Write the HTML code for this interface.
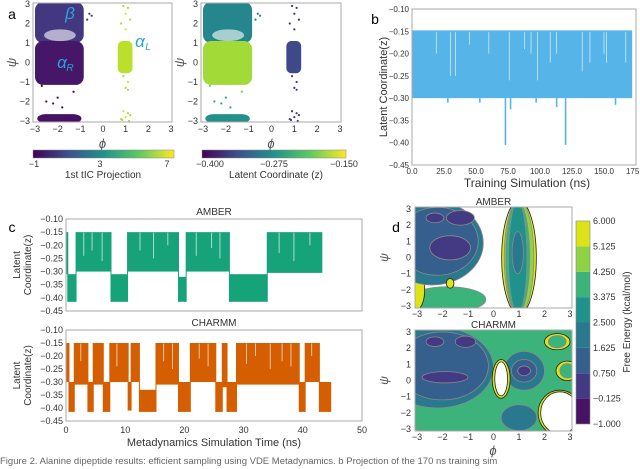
<!DOCTYPE html>
<html><head><meta charset="utf-8"><style>
html,body{margin:0;padding:0;background:#fff;overflow:hidden;width:640px;height:469px;}
svg{display:block;font-family:"Liberation Sans",sans-serif;}
</style></head><body>
<svg id="fig" width="640" height="469" viewBox="0 0 640 469" xmlns="http://www.w3.org/2000/svg">
<defs>
<linearGradient id="vir" x1="0" x2="1" y1="0" y2="0">
<stop offset="0" stop-color="#440154"/><stop offset="0.25" stop-color="#3b528b"/><stop offset="0.5" stop-color="#21918c"/><stop offset="0.75" stop-color="#5ec962"/><stop offset="1" stop-color="#fde725"/>
</linearGradient>
<clipPath id="cA"><rect x="33" y="3" width="139" height="119"/></clipPath>
<clipPath id="cB"><rect x="201" y="3" width="140" height="119"/></clipPath>
<clipPath id="cD1"><rect x="415" y="207" width="157" height="101"/></clipPath>
<clipPath id="cD2"><rect x="415" y="330" width="157" height="101"/></clipPath>
</defs>
<g id="root"></g>
</svg>
<script>
// ---------- data ----------
const phiTicks = [-3,-2,-1,0,1,2,3];
const psiTicks = [-3,-2,-1,0,1,2,3];
// scatter clusters as ranges: phi min/max, psi min/max
const clusterPhiMin = [-3.0,-3.0,-2.9,0.65];
const clusterPhiMax = [-0.85,-0.85,-0.95,1.3];
const clusterPsiMin = [1.0,-1.15,-3.1,-0.55];
const clusterPsiMax = [3.1,1.1,-2.65,1.1];
const tICValues = [0.3,-0.5,-0.6,6.2];
const latentValues = [-0.285,-0.185,-0.275,-0.345];
const sparsePhi = [0.9,1.1,1.0,1.2,0.8,1.0,0.9,1.1,1.0,1.1,0.9,1.1,1.0,0.8,1.2,-2.0,-2.2,-1.8,-2.5,-0.6,-0.5,-0.7,-1.3,-2.7,0.85,1.15];
const sparsePsi = [2.9,2.8,2.5,2.2,2.0,1.7,-0.7,-1.0,-1.3,-1.4,-2.5,-2.6,-2.8,-2.9,-2.7,-1.8,-2.1,-2.3,-2.0,2.5,2.4,2.2,-1.5,-1.2,-2.95,-3.0];
const sparseTIC = [6,6,6.5,6,6,6.5,6,6.5,6,6,6.5,6,6.5,6,6,-0.8,-0.8,-0.8,-0.8,0.5,0.5,0.5,-0.8,-0.8,6,6];
const sparseLatent = [-0.36,-0.36,-0.36,-0.36,-0.36,-0.36,-0.36,-0.36,-0.36,-0.36,-0.36,-0.36,-0.36,-0.36,-0.36,-0.25,-0.25,-0.25,-0.25,-0.29,-0.29,-0.29,-0.2,-0.2,-0.36,-0.36];
// panel b
const bTicksX = [0,25,50,75,100,125,150,175];
const bTickLabelsX = ["0.0","25.0","50.0","75.0","100.0","125.0","150.0","175.0"];
const bTicksY = [-0.10,-0.15,-0.20,-0.25,-0.30,-0.35,-0.40,-0.45];
const bBandStart = [0];
const bBandEnd = [172];
const bBandHigh = [-0.148];
const bBandLow = [-0.30];
const bSpikeTime = [73,120,53,77,113,159,28,97];
const bSpikeLow = [-0.405,-0.405,-0.31,-0.325,-0.32,-0.315,-0.31,-0.31];
const bGapTime = [19,30,34,60,76,93,98,108,113,133,139,150,152,167,45,88];
const bGapLow = [-0.2,-0.25,-0.25,-0.2,-0.26,-0.2,-0.26,-0.22,-0.2,-0.24,-0.22,-0.2,-0.22,-0.22,-0.18,-0.19];
// panel c
const cTicksY = [-0.10,-0.15,-0.20,-0.25,-0.30,-0.35,-0.40,-0.45];
const cTicksX = [0,10,20,30,40,50];
const amberStart = [0,0.3,1.7,7.6,10.4,19.0,20.3,27.6,34.0];
const amberEnd   = [0.3,1.7,7.6,10.4,19.0,20.3,27.6,34.0,43.3];
const amberHigh  = [-0.15,-0.31,-0.15,-0.31,-0.15,-0.32,-0.15,-0.31,-0.15];
const amberLow   = [-0.31,-0.415,-0.30,-0.415,-0.30,-0.415,-0.30,-0.415,-0.305];
const amberGapTime = [3.0,4.4,6.1,12.5,14.8,17.2,22.0,24.6,26.0,36.0,38.5,41.2];
const amberGapLow  = [-0.24,-0.22,-0.26,-0.22,-0.25,-0.2,-0.24,-0.21,-0.25,-0.23,-0.26,-0.2];
const charmmStart = [0,0.5,1.4,3.7,4.6,6.3,7.4,10.5,11.0,12.4,15.2,19.0,21.0,25.3,26.4,27.2,28.8,39.4,40.4,42.8];
const charmmEnd   = [0.5,1.4,3.7,4.6,6.3,7.4,10.5,11.0,12.4,15.2,19.0,21.0,25.3,26.4,27.2,28.8,39.4,40.4,42.8,44.8];
const charmmHigh  = [-0.15,-0.30,-0.15,-0.30,-0.15,-0.30,-0.15,-0.30,-0.15,-0.33,-0.15,-0.30,-0.15,-0.30,-0.15,-0.30,-0.15,-0.30,-0.15,-0.30];
const charmmLow   = [-0.30,-0.415,-0.31,-0.415,-0.31,-0.415,-0.30,-0.41,-0.30,-0.415,-0.31,-0.415,-0.30,-0.415,-0.32,-0.415,-0.31,-0.415,-0.30,-0.415];
const charmmGapTime = [2.5,8.6,16.5,18.0,22.5,24.0,30.5,32.0,34.5,36.5,38.0,41.5];
const charmmGapLow  = [-0.22,-0.24,-0.22,-0.25,-0.21,-0.24,-0.23,-0.2,-0.25,-0.22,-0.24,-0.2];
// panel d contours (drawn in order): phi, psi, rx, ry, free energy
const amberBlobPhi = [-1.8,-3.0,-2.4,-2.2,-1.7,-1.3,-2.3,-1.7,1.0,1.0,0.95,0.95,0.95];
const amberBlobPsi = [-2.6,-2.0,0.9,1.0,0.6,2.45,2.45,-1.6,0,0,0,0,0.3];
const amberBlobRx  = [1.5,0.3,2.0,1.6,0.8,0.55,0.35,0.15,0.68,0.58,0.47,0.36,0.22];
const amberBlobRy  = [0.8,1.2,2.6,2.1,0.75,0.45,0.3,0.3,3.5,3.5,3.45,3.4,1.3];
const amberBlobG   = [3.6,5.5,2.2,1.2,0.2,0.2,0.2,5.5,5.6,4.7,3.6,2.6,1.8];
const charmmBlobPhi = [0,-2.2,-2.0,-1.9,-2.3,-1.1,1.2,1.2,1.2,1.0,0.3,0.3,2.6,2.6,2.9,2.9,2.5,2.5];
const charmmBlobPsi = [0,0.8,0.9,0.2,2.4,2.4,0.6,0.6,0.6,-2.3,0.1,0.1,-2.0,-2.0,0.6,0.6,2.4,2.4];
const charmmBlobRx  = [4.3,2.2,1.8,0.9,0.35,0.4,0.8,0.5,0.25,0.7,0.35,0.25,0.85,0.75,0.45,0.3,0.5,0.35];
const charmmBlobRy  = [4.3,2.5,2.1,0.35,0.3,0.35,1.2,0.7,0.3,0.8,1.2,1.05,1.4,1.3,0.6,0.45,0.5,0.38];
const charmmBlobG   = [3.8,2.0,1.2,0.2,0.2,0.2,2.0,1.2,0.2,2.0,5.6,9,5.6,9,5.6,3.8,5.6,3.8];
const fLevels = [-1.000,-0.125,0.750,1.625,2.500,3.375,4.250,5.125,6.000];
const fLevelLabels = ["-1.000","-0.125","0.750","1.625","2.500","3.375","4.250","5.125","6.000"];
const fColors = ["#471365","#443983","#355f8d","#2a788e","#21918c","#3bb37a","#8fd344","#dde318"];

// ---------- helpers ----------
const NS="http://www.w3.org/2000/svg";
const root=document.getElementById('root');
function mk(tag,attrs,name,parent){
  const el=document.createElementNS(NS,tag);
  for(const k in attrs) el.setAttribute(k,attrs[k]);
  
  
  (parent||root).appendChild(el);
  return el;
}
function txt(x,y,s,name,opt){
  opt=opt||{};
  const t=mk('text',{x:x,y:y,'font-size':opt.size||9,fill:opt.fill||'#333','text-anchor':opt.anchor||'middle','font-style':opt.style||'normal'},name,opt.parent);
  if(opt.rot) t.setAttribute('transform','rotate(-90 '+x+' '+y+')');
  t.textContent=s;
  return t;
}
function lin(d0,d1,r0,r1){return v=>r0+(v-d0)/(d1-d0)*(r1-r0);}
const VIR=[[68,1,84],[72,40,120],[62,74,137],[49,104,142],[38,130,142],[31,158,137],[53,183,121],[109,205,89],[180,222,44],[253,231,37]];
function viridis(t){t=Math.max(0,Math.min(1,t));const p=t*(VIR.length-1);const i=Math.min(VIR.length-2,Math.floor(p));const f=p-i;const c=VIR[i].map((v,k)=>Math.round(v+(VIR[i+1][k]-v)*f));return 'rgb('+c.join(',')+')';}
function binColor(g){if(g>=8) return '#ffffff';for(let i=fLevels.length-2;i>=0;i--){if(g>=fLevels[i]) return fColors[i];}return fColors[0];}
function box(x,y,w,h,name){mk('rect',{x:x,y:y,width:w,height:h,fill:'none',stroke:'#aaa','stroke-width':1},name);}

// ---------- panel a ----------
function scatterPanel(x0,x1,y0,y1,clip,vals,svals,vmin,vmax,prefix){
  const sx=lin(-3,3,x0+2,x1-1), sy=lin(-3,3,y1-1,y0+1);
  const g=mk('g',{'clip-path':'url(#'+clip+')'},prefix+'-points');
  for(let i=0;i<clusterPhiMin.length;i++){
    const c=viridis((vals[i]-vmin)/(vmax-vmin));
    const w=sx(clusterPhiMax[i])-sx(clusterPhiMin[i]);
    mk('rect',{x:sx(clusterPhiMin[i]),y:sy(clusterPsiMax[i]),width:w,height:sy(clusterPsiMin[i])-sy(clusterPsiMax[i]),rx:Math.min(w/3,8),fill:c},prefix+'-cluster',g);
  }
  mk('ellipse',{cx:sx(-1.9),cy:sy(1.4),rx:0.7*(sx(1)-sx(0)),ry:0.3*(sy(0)-sy(1)),fill:'#fff',opacity:0.6},prefix+'-sparse-region',g);
  for(let i=0;i<sparsePhi.length;i++){
    mk('circle',{cx:sx(sparsePhi[i]),cy:sy(sparsePsi[i]),r:1.1,fill:viridis((svals[i]-vmin)/(vmax-vmin))},prefix+'-point',g);
  }
  box(x0,y0,x1-x0,y1-y0,prefix+'-frame');
  phiTicks.forEach(v=>txt(sx(v),y1+10,v<0?'\u2212'+(-v):String(v),prefix+'-x-tick'));
  psiTicks.forEach(v=>txt(x0-3,sy(v)+3,v<0?'\u2212'+(-v):String(v),prefix+'-y-tick',{anchor:'end'}));
  txt((x0+x1)/2,y1+26,'\u03d5',prefix+'-x-axis-title',{size:13,style:'italic',fill:'#555'});
  txt(x0-17,(y0+y1)/2,'\u03c8',prefix+'-y-axis-title',{size:13,style:'italic',fill:'#555',rot:true});
}
scatterPanel(33,172,3,122,'cA',tICValues,sparseTIC,-1,7,'tic-scatter');
scatterPanel(201,341,3,122,'cB',latentValues,sparseLatent,-0.4,-0.15,'latent-scatter');
txt(12,19,'a','panel-a-label',{size:14,fill:'#000'});
txt(70,19,'\u03b2','beta-label',{size:17,fill:'#29a3e0',style:'italic'});
txt(140,47,'\u03b1','alpha-l-label',{size:17,fill:'#29a3e0',style:'italic'});
txt(148,50,'L','alpha-l-sub',{size:10,fill:'#29a3e0',style:'italic'});
txt(62,68,'\u03b1','alpha-r-label',{size:17,fill:'#29a3e0',style:'italic'});
txt(70,71,'R','alpha-r-sub',{size:10,fill:'#29a3e0',style:'italic'});
mk('rect',{x:33,y:150,width:141,height:8,fill:'url(#vir)',stroke:'#888','stroke-width':0.5},'tic-colorbar');
txt(34,167,'\u22121','tic-cbar-tick');txt(100,167,'3','tic-cbar-tick');txt(167,167,'7','tic-cbar-tick');
txt(103,178,'1st tIC Projection','tic-cbar-title',{size:10});
mk('rect',{x:202,y:150,width:144,height:8,fill:'url(#vir)',stroke:'#888','stroke-width':0.5},'latent-colorbar');
txt(210,167,'\u22120.400','latent-cbar-tick');txt(274,167,'\u22120.275','latent-cbar-tick');txt(344,167,'\u22120.150','latent-cbar-tick');
txt(276,178,'Latent Coordinate (z)','latent-cbar-title',{size:10});

// ---------- panel b ----------
(function(){
  const x0=412,x1=636,y0=9,y1=165;
  const sx=lin(0,175,x0,x1), sy=lin(-0.10,-0.45,y0,y1);
  for(let i=0;i<bBandStart.length;i++)
    mk('rect',{x:sx(bBandStart[i]),y:sy(bBandHigh[i]),width:sx(bBandEnd[i])-sx(bBandStart[i]),height:sy(bBandLow[i])-sy(bBandHigh[i]),fill:'#56b4e9'},'training-band');
  for(let i=0;i<bSpikeTime.length;i++)
    mk('rect',{x:sx(bSpikeTime[i])-0.8,y:sy(-0.30),width:1.6,height:sy(bSpikeLow[i])-sy(-0.30),fill:'#56b4e9'},'training-spike');
  for(let i=0;i<bGapTime.length;i++)
    mk('line',{x1:sx(bGapTime[i]),x2:sx(bGapTime[i]),y1:sy(-0.152),y2:sy(bGapLow[i]),stroke:'#cfe9f8','stroke-width':0.8},'training-gap');
  box(x0,y0,x1-x0,y1-y0,'training-frame');
  bTicksX.forEach((v,i)=>txt(sx(v),y1+9,bTickLabelsX[i],'training-x-tick',{size:8}));
  bTicksY.forEach(v=>txt(x0-3,sy(v)+3,'\u2212'+(-v).toFixed(2),'training-y-tick',{anchor:'end',size:8}));
  txt(527,187,'Training Simulation (ns)','training-x-title',{size:12});
  txt(387,87,'Latent Coordinate(z)','training-y-title',{size:11,rot:true});
  txt(375,24,'b','panel-b-label',{size:14,fill:'#000'});
})();

// ---------- panel c ----------
function tsPanel(y0,y1,starts,ends,highs,lows,gapT,gapL,color,title,prefix,showX){
  const x0=66,x1=362;
  const sx=lin(0,50,x0,x1), sy=lin(-0.10,-0.45,y0,y1);
  for(let i=0;i<starts.length;i++){
    mk('rect',{x:sx(starts[i]),y:sy(highs[i]),width:Math.max(0.8,sx(ends[i])-sx(starts[i])),height:sy(lows[i])-sy(highs[i]),fill:color},prefix+'-segment');
    if(i>0) mk('line',{x1:sx(starts[i]),x2:sx(starts[i]),y1:sy(Math.max(highs[i],highs[i-1])),y2:sy(Math.min(lows[i],lows[i-1])),stroke:color,'stroke-width':1},prefix+'-transition');
  }
  for(let i=0;i<gapT.length;i++)
    mk('line',{x1:sx(gapT[i]),x2:sx(gapT[i]),y1:sy(-0.152),y2:sy(gapL[i]),stroke:'#fff','stroke-width':0.9,opacity:0.7},prefix+'-gap');
  box(x0,y0,x1-x0,y1-y0,prefix+'-frame');
  cTicksY.forEach(v=>txt(x0-3,sy(v)+3,'\u2212'+(-v).toFixed(2),prefix+'-y-tick',{anchor:'end',size:9}));
  if(showX) cTicksX.forEach(v=>txt(sx(v),y1+12,String(v),prefix+'-x-tick',{size:9}));
  txt((x0+x1)/2,y0-4,title,prefix+'-title',{size:10});
  txt(20,(y0+y1)/2,'Latent','latent-y-title-1',{size:10,rot:true});
  txt(31,(y0+y1)/2,'Coordinate(z)','latent-y-title-2',{size:10,rot:true});
}
tsPanel(219,311,amberStart,amberEnd,amberHigh,amberLow,amberGapTime,amberGapLow,'#16a37a','AMBER','amber-trace',false);
tsPanel(330,421,charmmStart,charmmEnd,charmmHigh,charmmLow,charmmGapTime,charmmGapLow,'#d55e00','CHARMM','charmm-trace',true);
txt(214,446,'Metadynamics Simulation Time (ns)','metad-x-title',{size:11});
txt(12,232,'c','panel-c-label',{size:14,fill:'#000'});

// ---------- panel d ----------
function fesPanel(y0,y1,clip,P,S,RX,RY,G,title,prefix){
  const x0=415,x1=572;
  const sx=lin(-3,3,x0+2,x1-2), sy=lin(-3,3,y1-2,y0+2);
  const g=mk('g',{'clip-path':'url(#'+clip+')'},prefix+'-contours');
  for(let i=0;i<P.length;i++){
    mk('ellipse',{cx:sx(P[i]),cy:sy(S[i]),rx:RX[i]*(sx(1)-sx(0)),ry:RY[i]*(sy(0)-sy(1)),fill:binColor(G[i]),stroke:G[i]>=5?'#222':'#8a8a8a','stroke-width':0.8},prefix+'-contour',g);
  }
  box(x0,y0,x1-x0,y1-y0,prefix+'-frame');
  phiTicks.forEach(v=>txt(sx(v),y1+9,v<0?'\u2212'+(-v):String(v),prefix+'-x-tick',{size:9}));
  psiTicks.forEach(v=>txt(x0-4,sy(v)+3,v<0?'\u2212'+(-v):String(v),prefix+'-y-tick',{anchor:'end',size:9}));
  txt(388,(y0+y1)/2,'\u03c8',prefix+'-y-title',{size:12,style:'italic',fill:'#555',rot:true});
  txt((x0+x1)/2,y0-2,title,prefix+'-title',{size:10});
}
fesPanel(207,308,'cD1',amberBlobPhi,amberBlobPsi,amberBlobRx,amberBlobRy,amberBlobG,'AMBER','amber-fes');
fesPanel(330,431,'cD2',charmmBlobPhi,charmmBlobPsi,charmmBlobRx,charmmBlobRy,charmmBlobG,'CHARMM','charmm-fes');
txt(493,455,'\u03d5','fes-x-title',{size:13,style:'italic',fill:'#555'});
txt(396,232,'d','panel-d-label',{size:14,fill:'#000'});
(function(){
  const sy=lin(-1,6,424,221);
  for(let i=0;i<fColors.length;i++)
    mk('rect',{x:576,y:sy(fLevels[i+1]),width:14,height:sy(fLevels[i])-sy(fLevels[i+1]),fill:fColors[i]},'fes-colorbar-bin');
  mk('rect',{x:576,y:221,width:14,height:203,fill:'none',stroke:'#888','stroke-width':0.6},'fes-colorbar-frame');
  fLevels.forEach((v,i)=>txt(593,sy(v)+3,fLevelLabels[i].replace('-','\u2212'),'fes-cbar-tick',{anchor:'start',size:9}));
  txt(630,322,'Free Energy (kcal/mol)','fes-cbar-title',{size:10,rot:true});
})();

// caption
txt(0,464,'Figure 2. Alanine dipeptide results: efficient sampling using VDE Metadynamics. b Projection of the 170 ns training sim','caption',{anchor:'start',size:9.5,fill:'#666'});
</script>
</body></html>
